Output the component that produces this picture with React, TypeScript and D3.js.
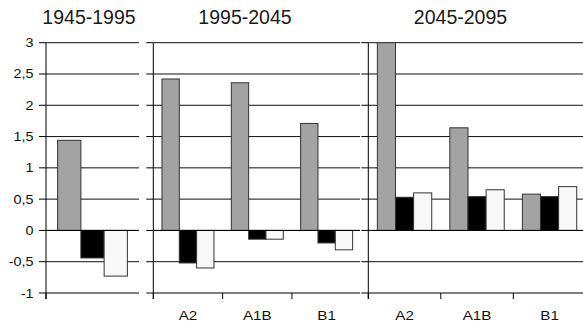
import { useEffect, useRef } from 'react';
import * as d3 from 'd3';

const WIDTH = 583;
const HEIGHT = 324;

const periods = ['1945-1995', '1995-2045', '2045-2095'];
const scenarios = ['A2', 'A1B', 'B1'];
const series = ['s1', 's2', 's3'];
const colors = ['#a3a3a3', '#000000', '#f8f8f8'];

// values per period, per scenario, per series (gray, black, white)
const past = [[1.44, -0.44, -0.73]];
const mid = [
  [2.42, -0.52, -0.6],
  [2.36, -0.14, -0.14],
  [1.71, -0.2, -0.31],
];
const late = [
  [3.0, 0.53, 0.6],
  [1.64, 0.54, 0.65],
  [0.58, 0.54, 0.7],
];

const yTicks = [-1, -0.5, 0, 0.5, 1, 1.5, 2, 2.5, 3];

const panels = [
  { title: periods[0], cats: [''], values: past, x0: 46, x1: 139, right: 139, titleX: 89 },
  { title: periods[1], cats: scenarios, values: mid, x0: 153.3, x1: 361.3, right: 360, titleX: 245 },
  { title: periods[2], cats: scenarios, values: late, x0: 368.3, x1: 585.8, right: 583, titleX: 460.5 },
];

function App() {
  const svgRef = useRef(null);

  useEffect(() => {
    const svg = d3.select(svgRef.current);
    svg.selectAll('*').remove();

    const y = d3.scaleLinear().domain([-1, 3]).range([293, 42.7]);
    const font = '"Liberation Sans", Arial, sans-serif';

    svg.append('defs').append('clipPath').attr('id', 'plot')
      .append('rect').attr('x', 0).attr('y', y(3)).attr('width', WIDTH).attr('height', y(-1) - y(3));

    panels.forEach((p, pi) => {
      const g = svg.append('g');
      const x = d3.scaleBand().domain(p.cats).range([p.x0, p.x1]).padding(0);

      // gridlines
      g.append('g').selectAll('line')
        .data(yTicks.filter((t) => t > -1))
        .join('line')
        .attr('x1', p.x0).attr('x2', p.right)
        .attr('y1', (d) => y(d)).attr('y2', (d) => y(d))
        .attr('stroke', '#111').attr('stroke-width', 1);

      // bars
      const bw = x.bandwidth();
      p.cats.forEach((c, ci) => {
        const xs = d3.scaleBand().domain(series)
          .range([x(c) + bw * 0.125, x(c) + bw * 0.875]);
        g.append('g').attr('clip-path', 'url(#plot)').selectAll('rect')
          .data(p.values[ci])
          .join('rect')
          .attr('x', (_, i) => xs(series[i]))
          .attr('width', xs.bandwidth())
          .attr('y', (d) => y(Math.max(0, d)))
          .attr('height', (d) => Math.abs(y(d) - y(0)))
          .attr('fill', (_, i) => colors[i])
          .attr('stroke', '#333')
          .attr('stroke-width', 1);
      });

      // zero line on top
      g.append('line')
        .attr('x1', p.x0).attr('x2', p.right)
        .attr('y1', y(0)).attr('y2', y(0))
        .attr('stroke', '#000');

      // y axis
      g.append('line')
        .attr('x1', p.x0).attr('x2', p.x0)
        .attr('y1', y(3)).attr('y2', y(-1) + 6)
        .attr('stroke', '#000');
      g.append('g').selectAll('line')
        .data(yTicks)
        .join('line')
        .attr('x1', p.x0 - 7).attr('x2', p.x0)
        .attr('y1', (d) => y(d)).attr('y2', (d) => y(d))
        .attr('stroke', '#000');

      // x axis
      g.append('line')
        .attr('x1', p.x0).attr('x2', p.right)
        .attr('y1', y(-1)).attr('y2', y(-1))
        .attr('stroke', '#000');
      g.append('g').selectAll('line')
        .data(p.cats)
        .join('line')
        .attr('x1', (d) => x(d)).attr('x2', (d) => x(d))
        .attr('y1', y(-1)).attr('y2', y(-1) + 6)
        .attr('stroke', '#000');
      g.append('g').selectAll('text')
        .data(p.cats)
        .join('text')
        .attr('transform', (d) => `translate(${x(d) + bw / 2},320) scale(1.17,1)`)
        .attr('text-anchor', 'middle')
        .attr('font-family', font)
        .attr('font-size', 13)
        .attr('fill', '#111')
        .text((d) => d);

      // title
      g.append('text')
        .attr('x', p.titleX)
        .attr('y', 24)
        .attr('text-anchor', 'middle')
        .attr('font-family', font)
        .attr('font-size', 19.5)
        .attr('fill', '#1a1a1a')
        .text(p.title);

      if (pi === 0) {
        g.append('g').selectAll('text')
          .data(yTicks)
          .join('text')
          .attr('transform', (d) => `translate(33.5,${y(d)}) scale(1.15,1)`)
          .attr('dy', '0.36em')
          .attr('text-anchor', 'end')
          .attr('font-family', font)
          .attr('font-size', 12.5)
          .attr('fill', '#111')
          .text((d) => String(d).replace('.', ','));
      }
    });
  }, []);

  return (
    <svg
      ref={svgRef}
      width={WIDTH}
      height={HEIGHT}
      style={{ position: 'fixed', left: 0, top: 0, background: '#fff' }}
    />
  );
}

export default App;
